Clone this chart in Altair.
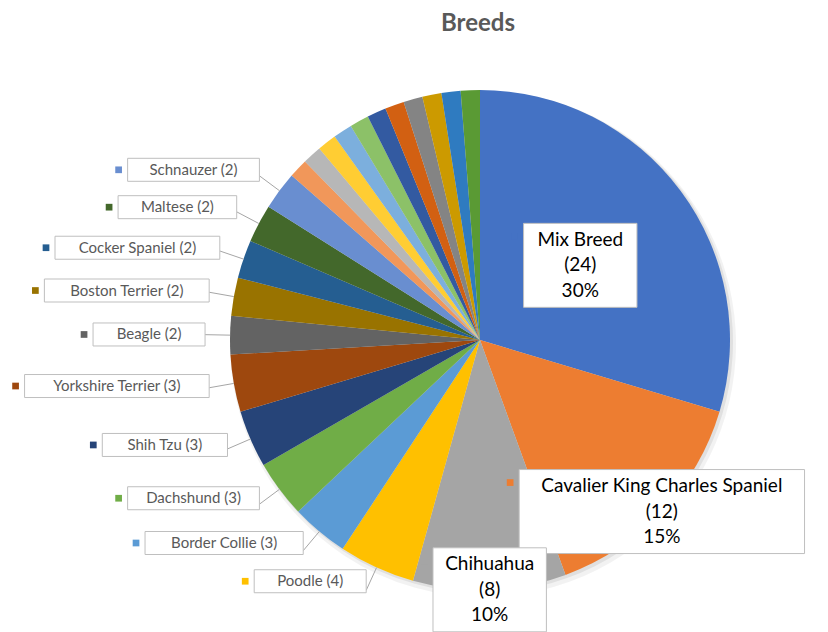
import math
import altair as alt
import pandas as pd

# ---- data ----
breeds = [
    "Mix Breed", "Cavalier King Charles Spaniel", "Chihuahua", "Poodle",
    "Border Collie", "Dachshund", "Shih Tzu", "Yorkshire Terrier", "Beagle",
    "Boston Terrier", "Cocker Spaniel", "Maltese", "Schnauzer",
    "Other 1", "Other 2", "Other 3", "Other 4", "Other 5", "Other 6",
    "Other 7", "Other 8", "Other 9", "Other 10", "Other 11",
]
counts = [24, 12, 8, 4, 3, 3, 3, 3, 2, 2, 2, 2, 2,
          1, 1, 1, 1, 1, 1, 1, 1, 1, 1, 1]
big_labels = ["Mix Breed", "Cavalier King Charles Spaniel", "Chihuahua"]
small_labels = ["Poodle", "Border Collie", "Dachshund", "Shih Tzu",
                "Yorkshire Terrier", "Beagle", "Boston Terrier",
                "Cocker Spaniel", "Maltese", "Schnauzer"]

# ---- styles ----
colors = ["#4472C4", "#ED7D31", "#A5A5A5", "#FFC000", "#5B9BD5", "#70AD47",
          "#264478", "#9E480E", "#636363", "#997300", "#255E91", "#43682B",
          "#698ED0", "#F1975A", "#B7B7B7", "#FFCD33", "#7CAFDD", "#8CC168",
          "#335AA1", "#D26012", "#848484", "#CC9A00", "#2F7BC0", "#5A9A34"]
FONT = "Lato"
W, H, TOP = 828, 632, 40
CX, CY, R = 480, 340, 250
SMALL_R = 275          # radius where outside labels are anchored
BIG_R = {"Mix Breed": 0.5, "Cavalier King Charles Spaniel": 1.0, "Chihuahua": 1.0}
LINE_H = 25.5

total = sum(counts)
df = pd.DataFrame({"breed": breeds, "count": counts, "order": range(len(breeds))})
df["start"] = df["count"].cumsum() - df["count"]
df["mid"] = (df["start"] + df["count"] / 2) / total * 2 * math.pi
df["pct"] = (df["count"] / total * 100).round().astype(int)
df["ex"] = CX + R * df["mid"].apply(math.sin)
df["ey"] = CY - R * df["mid"].apply(math.cos)

# outside labels
sm = df[df["breed"].isin(small_labels)].copy()
sm["label"] = sm["breed"] + " (" + sm["count"].astype(str) + ")"
sm["lx"] = CX + SMALL_R * sm["mid"].apply(math.sin)
sm["ly"] = CY - SMALL_R * sm["mid"].apply(math.cos)
sm["right"] = sm["lx"]
sm["ty"] = sm["ly"] - 10 * sm["mid"].apply(math.cos).abs()
sm["w"] = sm["label"].str.len() * 6.6 + 46
sm["left"] = sm["right"] - sm["w"]
sm["top"] = sm["ty"] - 11.5
sm["bottom"] = sm["ty"] + 11.5
sm["tx"] = (sm["left"] + sm["right"]) / 2
sm["mx"] = sm["left"] - 9
sm["my"] = sm["ty"]

# inside / large labels
bg = df[df["breed"].isin(big_labels)].copy()
bg["label"] = bg["breed"] + "\n(" + bg["count"].astype(str) + ")\n" + bg["pct"].astype(str) + "%"
f = bg["breed"].map(BIG_R)
cx_lab = CX + R * f * bg["mid"].apply(math.sin)
bg["ty"] = CY - R * f * bg["mid"].apply(math.cos)
bg["w"] = bg["breed"].str.len() * 8.6 + 36
bg["right"] = (cx_lab + bg["w"] / 2).clip(upper=W - 1)   # keep box inside the chart
bg["left"] = bg["right"] - bg["w"]
bg["tx"] = (bg["left"] + bg["right"]) / 2
bg["top"] = bg["ty"] - 42
bg["bottom"] = bg["ty"] + 42
bg["mx"] = bg["left"] - 9
bg["my"] = bg["top"] + 13

boxes = pd.concat([sm, bg])[["breed", "left", "right", "top", "bottom", "mx", "my"]]

xs = alt.Scale(domain=[0, W], nice=False, zero=False)
ys = alt.Scale(domain=[TOP, H], reverse=True, nice=False, zero=False)
cs = alt.Scale(domain=breeds, range=colors)

theta = alt.Theta("count:Q", stack=True)
order = alt.Order("order:Q")

shadow1 = alt.Chart(df).mark_arc(outerRadius=R + 3, color="#000000", opacity=0.05).encode(
    theta=theta, order=order, x=alt.value(CX + 3), y=alt.value(CY - TOP + 4))
shadow2 = alt.Chart(df).mark_arc(outerRadius=R + 1, color="#000000", opacity=0.07).encode(
    theta=theta, order=order, x=alt.value(CX + 2), y=alt.value(CY - TOP + 2))

pie = alt.Chart(df).mark_arc(outerRadius=R).encode(
    theta=theta, order=order,
    color=alt.Color("breed:N", scale=cs, legend=None),
    x=alt.value(CX), y=alt.value(CY - TOP),
)

leaders = alt.Chart(sm).mark_rule(color="#A6A6A6", strokeWidth=1).encode(
    x=alt.X("ex:Q", scale=xs, axis=None), y=alt.Y("ey:Q", scale=ys, axis=None),
    x2="lx:Q", y2="ly:Q")

box_layer = alt.Chart(boxes).mark_rect(fill="white", stroke="#BFBFBF", strokeWidth=1).encode(
    x=alt.X("left:Q", scale=xs, axis=None), x2="right:Q",
    y=alt.Y("top:Q", scale=ys, axis=None), y2="bottom:Q")

markers = alt.Chart(boxes).mark_square(size=45, opacity=1).encode(
    x=alt.X("mx:Q", scale=xs, axis=None), y=alt.Y("my:Q", scale=ys, axis=None),
    color=alt.Color("breed:N", scale=cs, legend=None))

small_text = alt.Chart(sm).mark_text(font=FONT, fontSize=15, color="#595959",
                                     align="center", baseline="middle").encode(
    x=alt.X("tx:Q", scale=xs, axis=None), y=alt.Y("ty:Q", scale=ys, axis=None),
    text="label:N")

big_text = alt.Chart(bg).mark_text(font=FONT, fontSize=19, color="#000000",
                                   align="center", baseline="middle",
                                   lineBreak="\n", lineHeight=LINE_H, dy=-LINE_H).encode(
    x=alt.X("tx:Q", scale=xs, axis=None), y=alt.Y("ty:Q", scale=ys, axis=None),
    text="label:N")

chart = alt.layer(
    shadow1, shadow2, pie, leaders, box_layer, markers, small_text, big_text
).properties(
    width=W, height=H - TOP,
    title=alt.TitleParams("Breeds", font=FONT, fontSize=24, fontWeight="bold",
                          color="#595959", anchor="middle", dx=64),
    padding={"left": 0, "right": 0, "top": TOP, "bottom": 0},
    autosize=alt.AutoSizeParams(type="none"),
).configure_view(stroke=None)

chart.save("out.html", embed_options={"renderer": "svg", "actions": False})
